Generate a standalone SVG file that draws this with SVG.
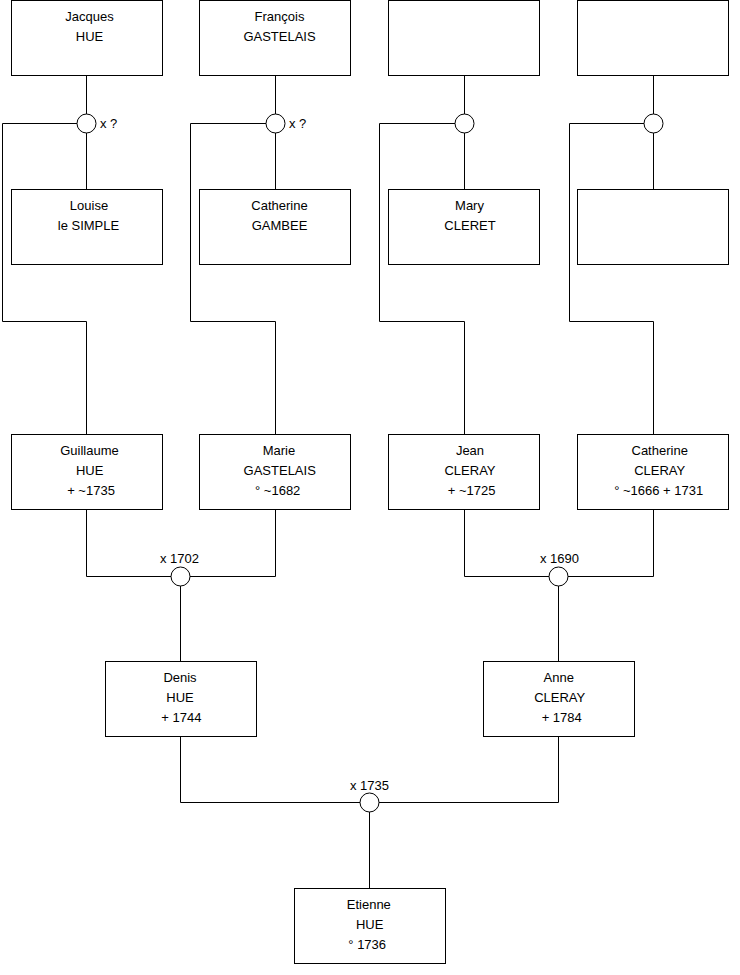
<svg xmlns="http://www.w3.org/2000/svg" width="740" height="975" viewBox="0 0 740 975">
<style>
.box{fill:#fff;stroke:#000;stroke-width:1}
.c{fill:#fff;stroke:#000;stroke-width:1}
.ln{fill:none;stroke:#000;stroke-width:1}
text{font-family:"Liberation Sans",Arial,sans-serif;font-size:13px;fill:#000;text-anchor:middle}
.l{text-anchor:start}
</style>
<rect width="740" height="975" fill="#fff"/>
<g id="connectors">
<path class="ln" d="M86.5 75.5V189.5M77 123.5H2.5V321.5H86.5V434.5"/>
<path class="ln" d="M275.5 75.5V189.5M266 123.5H190.5V321.5H275.5V434.5"/>
<path class="ln" d="M464.5 75.5V189.5M455 123.5H379.5V321.5H464.5V434.5"/>
<path class="ln" d="M653.5 75.5V189.5M644 123.5H569.5V321.5H653.5V434.5"/>
<path class="ln" d="M86.5 509.5V576.5H275.5V509.5M180.5 576.5V661.5"/>
<path class="ln" d="M464.5 509.5V576.5H653.5V509.5M558.5 576.5V661.5"/>
<path class="ln" d="M180.5 736.5V802.5H558.5V736.5M369.5 802.5V888.5"/>
</g>
<g id="m1"><circle class="c" cx="86.5" cy="123.5" r="9.5"/><text class="l" x="100" y="128">x ?</text></g>
<g id="m2"><circle class="c" cx="275.5" cy="123.5" r="9.5"/><text class="l" x="289" y="128">x ?</text></g>
<g id="m3"><circle class="c" cx="464.5" cy="123.5" r="9.5"/></g>
<g id="m4"><circle class="c" cx="653.5" cy="123.5" r="9.5"/></g>
<g id="m5"><circle class="c" cx="180.5" cy="576.5" r="9.5"/><text x="179.5" y="563">x 1702</text></g>
<g id="m6"><circle class="c" cx="558.5" cy="576.5" r="9.5"/><text x="559.5" y="563">x 1690</text></g>
<g id="m7"><circle class="c" cx="369.5" cy="802.5" r="9.5"/><text x="369.5" y="790">x 1735</text></g>

<g id="jacques"><rect class="box" x="11.5" y="0.5" width="151" height="75"/><text x="89.5" y="20.5">Jacques</text><text x="89.5" y="40.5">HUE</text></g>
<g id="francois"><rect class="box" x="199.5" y="0.5" width="151" height="75"/><text x="279.5" y="20.5">François</text><text x="279.5" y="40.5">GASTELAIS</text></g>
<g id="unknown1"><rect class="box" x="388.5" y="0.5" width="151" height="75"/></g>
<g id="unknown2"><rect class="box" x="577.5" y="0.5" width="151" height="75"/></g>

<g id="louise"><rect class="box" x="11.5" y="189.5" width="151" height="75"/><text x="89" y="210">Louise</text><text x="88.5" y="230">le SIMPLE</text></g>
<g id="catherine-gambee"><rect class="box" x="199.5" y="189.5" width="151" height="75"/><text x="279.5" y="210">Catherine</text><text x="279.5" y="230">GAMBEE</text></g>
<g id="mary"><rect class="box" x="388.5" y="189.5" width="151" height="75"/><text x="469.5" y="210">Mary</text><text x="470" y="230">CLERET</text></g>
<g id="unknown3"><rect class="box" x="577.5" y="189.5" width="151" height="75"/></g>

<g id="guillaume"><rect class="box" x="11.5" y="434.5" width="151" height="75"/><text x="89.5" y="455">Guillaume</text><text x="89.7" y="475">HUE</text><text x="91" y="495">+ ~1735</text></g>
<g id="marie"><rect class="box" x="199.5" y="434.5" width="151" height="75"/><text x="279" y="455">Marie</text><text x="279.7" y="475">GASTELAIS</text><text x="277.7" y="495">° ~1682</text></g>
<g id="jean"><rect class="box" x="388.5" y="434.5" width="151" height="75"/><text x="470" y="455">Jean</text><text x="470" y="475">CLERAY</text><text x="471.7" y="495">+ ~1725</text></g>
<g id="catherine-cleray"><rect class="box" x="577.5" y="434.5" width="151" height="75"/><text x="659.7" y="455">Catherine</text><text x="659.7" y="475">CLERAY</text><text x="658.7" y="495">° ~1666 + 1731</text></g>

<g id="denis"><rect class="box" x="105.5" y="661.5" width="151" height="75"/><text x="180" y="682">Denis</text><text x="180" y="702">HUE</text><text x="181.3" y="722">+ 1744</text></g>
<g id="anne"><rect class="box" x="483.5" y="661.5" width="151" height="75"/><text x="558.8" y="682">Anne</text><text x="559.7" y="702">CLERAY</text><text x="561.7" y="722">+ 1784</text></g>

<g id="etienne"><rect class="box" x="294.5" y="888.5" width="151" height="75"/><text x="368.8" y="909">Etienne</text><text x="369.7" y="929">HUE</text><text x="367.2" y="949">° 1736</text></g>
</svg>
